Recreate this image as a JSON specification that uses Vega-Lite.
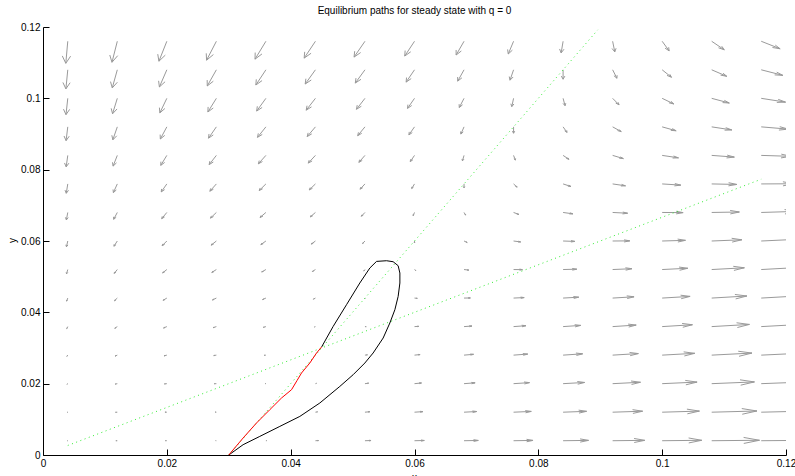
{
"$schema": "https://vega.github.io/schema/vega-lite/v6.json",
"width": 743, "height": 428,
"autosize": {"type": "none"},
"padding": {"left": 43, "top": 27, "right": 9, "bottom": 21},
"background": "white",
"title": {"text": "Equilibrium paths for steady state with q = 0", "fontSize": 10, "fontWeight": "normal", "font": "Liberation Sans", "color": "black", "offset": 6, "anchor": "middle"},
"config": {"view": {"stroke": null}, "axis": {"grid": false, "domainColor": "black", "tickColor": "black", "labelColor": "black", "labelFont": "Liberation Sans", "labelFontSize": 10, "titleFont": "Liberation Sans", "titleFontSize": 10, "titleFontWeight": "normal", "titleColor": "black", "tickSize": -6, "labelPadding": 9, "domainWidth": 1, "tickWidth": 1}},
"datasets": {
"q": [
{"x":0.004,"y":0.004,"u":-0.000105,"v":-0.000003},{"x":0.004,"y":0.012,"u":-0.000120,"v":-0.000053},{"x":0.004,"y":0.020,"u":-0.000135,"v":-0.000163},{"x":0.004,"y":0.028,"u":-0.000150,"v":-0.000333},{"x":0.004,"y":0.036,"u":-0.000165,"v":-0.000564},{"x":0.004,"y":0.044,"u":-0.000180,"v":-0.000855},{"x":0.004,"y":0.052,"u":-0.000196,"v":-0.001206},{"x":0.004,"y":0.060,"u":-0.000211,"v":-0.001617},{"x":0.004,"y":0.068,"u":-0.000226,"v":-0.002088},{"x":0.004,"y":0.076,"u":-0.000241,"v":-0.002620},{"x":0.004,"y":0.084,"u":-0.000256,"v":-0.003211},{"x":0.004,"y":0.092,"u":-0.000271,"v":-0.003863},{"x":0.004,"y":0.100,"u":-0.000286,"v":-0.004575},{"x":0.004,"y":0.108,"u":-0.000301,"v":-0.005347},{"x":0.004,"y":0.116,"u":-0.000316,"v":-0.006180},
{"x":0.012,"y":0.004,"u":-0.000226,"v":0.000008},{"x":0.012,"y":0.012,"u":-0.000271,"v":-0.000023},{"x":0.012,"y":0.020,"u":-0.000316,"v":-0.000113},{"x":0.012,"y":0.028,"u":-0.000361,"v":-0.000263},{"x":0.012,"y":0.036,"u":-0.000406,"v":-0.000474},{"x":0.012,"y":0.044,"u":-0.000451,"v":-0.000745},{"x":0.012,"y":0.052,"u":-0.000496,"v":-0.001075},{"x":0.012,"y":0.060,"u":-0.000541,"v":-0.001466},{"x":0.012,"y":0.068,"u":-0.000587,"v":-0.001918},{"x":0.012,"y":0.076,"u":-0.000632,"v":-0.002429},{"x":0.012,"y":0.084,"u":-0.000677,"v":-0.003001},{"x":0.012,"y":0.092,"u":-0.000722,"v":-0.003632},{"x":0.012,"y":0.100,"u":-0.000767,"v":-0.004324},{"x":0.012,"y":0.108,"u":-0.000812,"v":-0.005076},{"x":0.012,"y":0.116,"u":-0.000857,"v":-0.005888},
{"x":0.020,"y":0.004,"u":-0.000226,"v":0.000018},{"x":0.020,"y":0.012,"u":-0.000301,"v":0.000008},{"x":0.020,"y":0.020,"u":-0.000376,"v":-0.000063},{"x":0.020,"y":0.028,"u":-0.000451,"v":-0.000193},{"x":0.020,"y":0.036,"u":-0.000526,"v":-0.000384},{"x":0.020,"y":0.044,"u":-0.000602,"v":-0.000634},{"x":0.020,"y":0.052,"u":-0.000677,"v":-0.000945},{"x":0.020,"y":0.060,"u":-0.000752,"v":-0.001316},{"x":0.020,"y":0.068,"u":-0.000827,"v":-0.001747},{"x":0.020,"y":0.076,"u":-0.000902,"v":-0.002238},{"x":0.020,"y":0.084,"u":-0.000978,"v":-0.002790},{"x":0.020,"y":0.092,"u":-0.001053,"v":-0.003402},{"x":0.020,"y":0.100,"u":-0.001128,"v":-0.004073},{"x":0.020,"y":0.108,"u":-0.001203,"v":-0.004805},{"x":0.020,"y":0.116,"u":-0.001278,"v":-0.005597},
{"x":0.028,"y":0.004,"u":-0.000105,"v":0.000028},{"x":0.028,"y":0.012,"u":-0.000211,"v":0.000038},{"x":0.028,"y":0.020,"u":-0.000316,"v":-0.000013},{"x":0.028,"y":0.028,"u":-0.000421,"v":-0.000123},{"x":0.028,"y":0.036,"u":-0.000526,"v":-0.000293},{"x":0.028,"y":0.044,"u":-0.000632,"v":-0.000524},{"x":0.028,"y":0.052,"u":-0.000737,"v":-0.000815},{"x":0.028,"y":0.060,"u":-0.000842,"v":-0.001166},{"x":0.028,"y":0.068,"u":-0.000948,"v":-0.001577},{"x":0.028,"y":0.076,"u":-0.001053,"v":-0.002048},{"x":0.028,"y":0.084,"u":-0.001158,"v":-0.002579},{"x":0.028,"y":0.092,"u":-0.001263,"v":-0.003171},{"x":0.028,"y":0.100,"u":-0.001369,"v":-0.003823},{"x":0.028,"y":0.108,"u":-0.001474,"v":-0.004535},{"x":0.028,"y":0.116,"u":-0.001579,"v":-0.005307},
{"x":0.036,"y":0.004,"u":0.000135,"v":0.000038},{"x":0.036,"y":0.012,"u":0.0,"v":0.000068},{"x":0.036,"y":0.020,"u":-0.000135,"v":0.000038},{"x":0.036,"y":0.028,"u":-0.000271,"v":-0.000053},{"x":0.036,"y":0.036,"u":-0.000406,"v":-0.000203},{"x":0.036,"y":0.044,"u":-0.000541,"v":-0.000414},{"x":0.036,"y":0.052,"u":-0.000677,"v":-0.000684},{"x":0.036,"y":0.060,"u":-0.000812,"v":-0.001015},{"x":0.036,"y":0.068,"u":-0.000948,"v":-0.001406},{"x":0.036,"y":0.076,"u":-0.001083,"v":-0.001857},{"x":0.036,"y":0.084,"u":-0.001218,"v":-0.002369},{"x":0.036,"y":0.092,"u":-0.001354,"v":-0.002940},{"x":0.036,"y":0.100,"u":-0.001489,"v":-0.003572},{"x":0.036,"y":0.108,"u":-0.001624,"v":-0.004264},{"x":0.036,"y":0.116,"u":-0.001760,"v":-0.005016},
{"x":0.044,"y":0.004,"u":0.000496,"v":0.000048},{"x":0.044,"y":0.012,"u":0.000331,"v":0.000098},{"x":0.044,"y":0.020,"u":0.000165,"v":0.000088},{"x":0.044,"y":0.028,"u":0.0,"v":0.000018},{"x":0.044,"y":0.036,"u":-0.000165,"v":-0.000113},{"x":0.044,"y":0.044,"u":-0.000331,"v":-0.000303},{"x":0.044,"y":0.052,"u":-0.000496,"v":-0.000554},{"x":0.044,"y":0.060,"u":-0.000662,"v":-0.000865},{"x":0.044,"y":0.068,"u":-0.000827,"v":-0.001236},{"x":0.044,"y":0.076,"u":-0.000993,"v":-0.001667},{"x":0.044,"y":0.084,"u":-0.001158,"v":-0.002158},{"x":0.044,"y":0.092,"u":-0.001324,"v":-0.002710},{"x":0.044,"y":0.100,"u":-0.001489,"v":-0.003321},{"x":0.044,"y":0.108,"u":-0.001654,"v":-0.003993},{"x":0.044,"y":0.116,"u":-0.001820,"v":-0.004725},
{"x":0.052,"y":0.004,"u":0.000978,"v":0.000058},{"x":0.052,"y":0.012,"u":0.000782,"v":0.000128},{"x":0.052,"y":0.020,"u":0.000587,"v":0.000138},{"x":0.052,"y":0.028,"u":0.000391,"v":0.000088},{"x":0.052,"y":0.036,"u":0.000196,"v":-0.000023},{"x":0.052,"y":0.044,"u":0.0,"v":-0.000193},{"x":0.052,"y":0.052,"u":-0.000196,"v":-0.000424},{"x":0.052,"y":0.060,"u":-0.000391,"v":-0.000714},{"x":0.052,"y":0.068,"u":-0.000587,"v":-0.001065},{"x":0.052,"y":0.076,"u":-0.000782,"v":-0.001476},{"x":0.052,"y":0.084,"u":-0.000978,"v":-0.001948},{"x":0.052,"y":0.092,"u":-0.001173,"v":-0.002479},{"x":0.052,"y":0.100,"u":-0.001369,"v":-0.003071},{"x":0.052,"y":0.108,"u":-0.001564,"v":-0.003722},{"x":0.052,"y":0.116,"u":-0.001760,"v":-0.004434},
{"x":0.060,"y":0.004,"u":0.001579,"v":0.000068},{"x":0.060,"y":0.012,"u":0.001354,"v":0.000158},{"x":0.060,"y":0.020,"u":0.001128,"v":0.000188},{"x":0.060,"y":0.028,"u":0.000902,"v":0.000158},{"x":0.060,"y":0.036,"u":0.000677,"v":0.000068},{"x":0.060,"y":0.044,"u":0.000451,"v":-0.000083},{"x":0.060,"y":0.052,"u":0.000226,"v":-0.000293},{"x":0.060,"y":0.060,"u":0.0,"v":-0.000564},{"x":0.060,"y":0.068,"u":-0.000226,"v":-0.000895},{"x":0.060,"y":0.076,"u":-0.000451,"v":-0.001286},{"x":0.060,"y":0.084,"u":-0.000677,"v":-0.001737},{"x":0.060,"y":0.092,"u":-0.000902,"v":-0.002249},{"x":0.060,"y":0.100,"u":-0.001128,"v":-0.002820},{"x":0.060,"y":0.108,"u":-0.001354,"v":-0.003452},{"x":0.060,"y":0.116,"u":-0.001579,"v":-0.004144},
{"x":0.068,"y":0.004,"u":0.002301,"v":0.000078},{"x":0.068,"y":0.012,"u":0.002045,"v":0.000188},{"x":0.068,"y":0.020,"u":0.001790,"v":0.000238},{"x":0.068,"y":0.028,"u":0.001534,"v":0.000228},{"x":0.068,"y":0.036,"u":0.001278,"v":0.000158},{"x":0.068,"y":0.044,"u":0.001023,"v":0.000028},{"x":0.068,"y":0.052,"u":0.000767,"v":-0.000163},{"x":0.068,"y":0.060,"u":0.000511,"v":-0.000414},{"x":0.068,"y":0.068,"u":0.000256,"v":-0.000724},{"x":0.068,"y":0.076,"u":0.0,"v":-0.001095},{"x":0.068,"y":0.084,"u":-0.000256,"v":-0.001527},{"x":0.068,"y":0.092,"u":-0.000511,"v":-0.002018},{"x":0.068,"y":0.100,"u":-0.000767,"v":-0.002569},{"x":0.068,"y":0.108,"u":-0.001023,"v":-0.003181},{"x":0.068,"y":0.116,"u":-0.001278,"v":-0.003853},
{"x":0.076,"y":0.004,"u":0.003143,"v":0.000088},{"x":0.076,"y":0.012,"u":0.002858,"v":0.000218},{"x":0.076,"y":0.020,"u":0.002572,"v":0.000288},{"x":0.076,"y":0.028,"u":0.002286,"v":0.000298},{"x":0.076,"y":0.036,"u":0.002000,"v":0.000248},{"x":0.076,"y":0.044,"u":0.001715,"v":0.000138},{"x":0.076,"y":0.052,"u":0.001429,"v":-0.000033},{"x":0.076,"y":0.060,"u":0.001143,"v":-0.000263},{"x":0.076,"y":0.068,"u":0.000857,"v":-0.000554},{"x":0.076,"y":0.076,"u":0.000572,"v":-0.000905},{"x":0.076,"y":0.084,"u":0.000286,"v":-0.001316},{"x":0.076,"y":0.092,"u":0.0,"v":-0.001787},{"x":0.076,"y":0.100,"u":-0.000286,"v":-0.002319},{"x":0.076,"y":0.108,"u":-0.000572,"v":-0.002910},{"x":0.076,"y":0.116,"u":-0.000857,"v":-0.003562},
{"x":0.084,"y":0.004,"u":0.004106,"v":0.000098},{"x":0.084,"y":0.012,"u":0.003790,"v":0.000248},{"x":0.084,"y":0.020,"u":0.003474,"v":0.000338},{"x":0.084,"y":0.028,"u":0.003158,"v":0.000369},{"x":0.084,"y":0.036,"u":0.002843,"v":0.000338},{"x":0.084,"y":0.044,"u":0.002527,"v":0.000248},{"x":0.084,"y":0.052,"u":0.002211,"v":0.000098},{"x":0.084,"y":0.060,"u":0.001895,"v":-0.000113},{"x":0.084,"y":0.068,"u":0.001579,"v":-0.000384},{"x":0.084,"y":0.076,"u":0.001263,"v":-0.000714},{"x":0.084,"y":0.084,"u":0.000948,"v":-0.001105},{"x":0.084,"y":0.092,"u":0.000632,"v":-0.001557},{"x":0.084,"y":0.100,"u":0.000316,"v":-0.002068},{"x":0.084,"y":0.108,"u":0.0,"v":-0.002640},{"x":0.084,"y":0.116,"u":-0.000316,"v":-0.003271},
{"x":0.092,"y":0.004,"u":0.005189,"v":0.000108},{"x":0.092,"y":0.012,"u":0.004843,"v":0.000278},{"x":0.092,"y":0.020,"u":0.004497,"v":0.000389},{"x":0.092,"y":0.028,"u":0.004151,"v":0.000439},{"x":0.092,"y":0.036,"u":0.003805,"v":0.000429},{"x":0.092,"y":0.044,"u":0.003459,"v":0.000359},{"x":0.092,"y":0.052,"u":0.003113,"v":0.000228},{"x":0.092,"y":0.060,"u":0.002767,"v":0.000038},{"x":0.092,"y":0.068,"u":0.002421,"v":-0.000213},{"x":0.092,"y":0.076,"u":0.002076,"v":-0.000524},{"x":0.092,"y":0.084,"u":0.001730,"v":-0.000895},{"x":0.092,"y":0.092,"u":0.001384,"v":-0.001326},{"x":0.092,"y":0.100,"u":0.001038,"v":-0.001817},{"x":0.092,"y":0.108,"u":0.000692,"v":-0.002369},{"x":0.092,"y":0.116,"u":0.000346,"v":-0.002980},
{"x":0.100,"y":0.004,"u":0.006392,"v":0.000118},{"x":0.100,"y":0.012,"u":0.006016,"v":0.000308},{"x":0.100,"y":0.020,"u":0.005640,"v":0.000439},{"x":0.100,"y":0.028,"u":0.005264,"v":0.000509},{"x":0.100,"y":0.036,"u":0.004888,"v":0.000519},{"x":0.100,"y":0.044,"u":0.004512,"v":0.000469},{"x":0.100,"y":0.052,"u":0.004136,"v":0.000358},{"x":0.100,"y":0.060,"u":0.003760,"v":0.000188},{"x":0.100,"y":0.068,"u":0.003384,"v":-0.000043},{"x":0.100,"y":0.076,"u":0.003008,"v":-0.000333},{"x":0.100,"y":0.084,"u":0.002632,"v":-0.000684},{"x":0.100,"y":0.092,"u":0.002256,"v":-0.001095},{"x":0.100,"y":0.100,"u":0.001880,"v":-0.001567},{"x":0.100,"y":0.108,"u":0.001504,"v":-0.002098},{"x":0.100,"y":0.116,"u":0.001128,"v":-0.002690},
{"x":0.108,"y":0.004,"u":0.007716,"v":0.000128},{"x":0.108,"y":0.012,"u":0.007309,"v":0.000338},{"x":0.108,"y":0.020,"u":0.006903,"v":0.000489},{"x":0.108,"y":0.028,"u":0.006497,"v":0.000579},{"x":0.108,"y":0.036,"u":0.006091,"v":0.000609},{"x":0.108,"y":0.044,"u":0.005685,"v":0.000579},{"x":0.108,"y":0.052,"u":0.005279,"v":0.000489},{"x":0.108,"y":0.060,"u":0.004873,"v":0.000338},{"x":0.108,"y":0.068,"u":0.004467,"v":0.000128},{"x":0.108,"y":0.076,"u":0.004061,"v":-0.000143},{"x":0.108,"y":0.084,"u":0.003655,"v":-0.000474},{"x":0.108,"y":0.092,"u":0.003249,"v":-0.000865},{"x":0.108,"y":0.100,"u":0.002843,"v":-0.001316},{"x":0.108,"y":0.108,"u":0.002437,"v":-0.001827},{"x":0.108,"y":0.116,"u":0.002030,"v":-0.002399},
{"x":0.116,"y":0.004,"u":0.009159,"v":0.000138},{"x":0.116,"y":0.012,"u":0.008723,"v":0.000369},{"x":0.116,"y":0.020,"u":0.008287,"v":0.000539},{"x":0.116,"y":0.028,"u":0.007851,"v":0.000649},{"x":0.116,"y":0.036,"u":0.007415,"v":0.000699},{"x":0.116,"y":0.044,"u":0.006979,"v":0.000689},{"x":0.116,"y":0.052,"u":0.006542,"v":0.000619},{"x":0.116,"y":0.060,"u":0.006106,"v":0.000489},{"x":0.116,"y":0.068,"u":0.005670,"v":0.000298},{"x":0.116,"y":0.076,"u":0.005234,"v":0.000048},{"x":0.116,"y":0.084,"u":0.004798,"v":-0.000263},{"x":0.116,"y":0.092,"u":0.004362,"v":-0.000634},{"x":0.116,"y":0.100,"u":0.003925,"v":-0.001065},{"x":0.116,"y":0.108,"u":0.003489,"v":-0.001557},{"x":0.116,"y":0.116,"u":0.003053,"v":-0.002108}
],
"p": [
{"s":"A","o":0,"x":0.004,"y":0.00267},{"s":"A","o":1,"x":0.116,"y":0.07733},
{"s":"B","o":0,"x":0.030,"y":0.0},{"s":"B","o":1,"x":0.0896,"y":0.1192},
{"s":"R","o":0,"x":0.0300,"y":0.0},{"s":"R","o":1,"x":0.03232,"y":0.00477},{"s":"R","o":2,"x":0.03448,"y":0.00897},{"s":"R","o":3,"x":0.03663,"y":0.01270},{"s":"R","o":4,"x":0.03852,"y":0.01598},{"s":"R","o":5,"x":0.04014,"y":0.01831},{"s":"R","o":6,"x":0.04104,"y":0.02091},{"s":"R","o":7,"x":0.04175,"y":0.02299},{"s":"R","o":8,"x":0.04309,"y":0.02579},{"s":"R","o":9,"x":0.04418,"y":0.02860},{"s":"R","o":10,"x":0.04500,"y":0.03030},
{"s":"K","o":0,"x":0.04500,"y":0.03030},{"s":"K","o":1,"x":0.04686,"y":0.03605},{"s":"K","o":2,"x":0.04902,"y":0.04214},{"s":"K","o":3,"x":0.05117,"y":0.04822},{"s":"K","o":4,"x":0.05279,"y":0.05243},{"s":"K","o":5,"x":0.05387,"y":0.05428},{"s":"K","o":6,"x":0.05549,"y":0.05447},{"s":"K","o":7,"x":0.05655,"y":0.05419},{"s":"K","o":8,"x":0.05736,"y":0.05307},{"s":"K","o":9,"x":0.05764,"y":0.05102},{"s":"K","o":10,"x":0.05764,"y":0.04822},{"s":"K","o":11,"x":0.05736,"y":0.04446},{"s":"K","o":12,"x":0.05683,"y":0.04073},{"s":"K","o":13,"x":0.05602,"y":0.03701},{"s":"K","o":14,"x":0.05494,"y":0.03280},{"s":"K","o":15,"x":0.05332,"y":0.02860},{"s":"K","o":16,"x":0.05198,"y":0.02579},{"s":"K","o":17,"x":0.05009,"y":0.02251},{"s":"K","o":18,"x":0.04794,"y":0.01923},{"s":"K","o":19,"x":0.04471,"y":0.01458},{"s":"K","o":20,"x":0.04148,"y":0.01082},{"s":"K","o":21,"x":0.03825,"y":0.00802},{"s":"K","o":22,"x":0.03501,"y":0.00521},{"s":"K","o":23,"x":0.03232,"y":0.00289},{"s":"K","o":24,"x":0.0300,"y":0.0}
]
},
"layer": [
{"data": {"name": "q"},
 "transform": [
  {"calculate": "datum.x + datum.u", "as": "xe"},
  {"calculate": "datum.y + datum.v", "as": "ye"},
  {"calculate": "datum.xe - 0.33*(datum.u + 0.33*datum.v)", "as": "b1x"},
  {"calculate": "datum.ye - 0.33*(datum.v - 0.33*datum.u)", "as": "b1y"},
  {"calculate": "datum.xe - 0.33*(datum.u - 0.33*datum.v)", "as": "b2x"},
  {"calculate": "datum.ye - 0.33*(datum.v + 0.33*datum.u)", "as": "b2y"}
 ],
 "layer": [
  {"mark": {"type": "rule", "color": "#9a9a9a", "strokeWidth": 1, "clip": true},
   "encoding": {
    "x": {"field": "x", "type": "quantitative", "title": "x", "scale": {"domain": [0, 0.12], "nice": false, "zero": false}, "axis": {"title": "x", "values": [0, 0.02, 0.04, 0.06, 0.08, 0.1, 0.12], "format": "~g", "labelFlush": false, "titleY": 17, "titleBaseline": "top", "titleX": 371}},
    "y": {"field": "y", "type": "quantitative", "title": "y", "scale": {"domain": [0, 0.12], "nice": false, "zero": false}, "axis": {"title": "y", "values": [0, 0.02, 0.04, 0.06, 0.08, 0.1, 0.12], "format": "~g", "labelFlush": false, "titleAngle": -90, "titleX": -31, "titleY": 213, "titleAlign": "center", "titleBaseline": "middle"}},
    "x2": {"field": "xe"}, "y2": {"field": "ye"}}},
  {"mark": {"type": "rule", "color": "#9a9a9a", "strokeWidth": 1, "clip": true},
   "encoding": {"x": {"field": "xe", "type": "quantitative", "title": "x"}, "y": {"field": "ye", "type": "quantitative", "title": "y"}, "x2": {"field": "b1x"}, "y2": {"field": "b1y"}}},
  {"mark": {"type": "rule", "color": "#9a9a9a", "strokeWidth": 1, "clip": true},
   "encoding": {"x": {"field": "xe", "type": "quantitative", "title": "x"}, "y": {"field": "ye", "type": "quantitative", "title": "y"}, "x2": {"field": "b2x"}, "y2": {"field": "b2y"}}}
 ]},
{"data": {"name": "p"}, "transform": [{"filter": "datum.s === 'A' || datum.s === 'B'"}],
 "mark": {"type": "line", "color": "#33ee33", "strokeWidth": 1, "strokeDash": [1, 3.5], "clip": true},
 "encoding": {"x": {"field": "x", "type": "quantitative", "title": "x"}, "y": {"field": "y", "type": "quantitative", "title": "y"}, "detail": {"field": "s"}, "order": {"field": "o", "type": "quantitative"}}},
{"data": {"name": "p"}, "transform": [{"filter": "datum.s === 'K'"}],
 "mark": {"type": "line", "color": "#000000", "strokeWidth": 1, "clip": true},
 "encoding": {"x": {"field": "x", "type": "quantitative", "title": "x"}, "y": {"field": "y", "type": "quantitative", "title": "y"}, "order": {"field": "o", "type": "quantitative"}}},
{"data": {"name": "p"}, "transform": [{"filter": "datum.s === 'R'"}],
 "mark": {"type": "line", "color": "#ff0000", "strokeWidth": 1, "clip": true},
 "encoding": {"x": {"field": "x", "type": "quantitative", "title": "x"}, "y": {"field": "y", "type": "quantitative", "title": "y"}, "order": {"field": "o", "type": "quantitative"}}}
]
}
